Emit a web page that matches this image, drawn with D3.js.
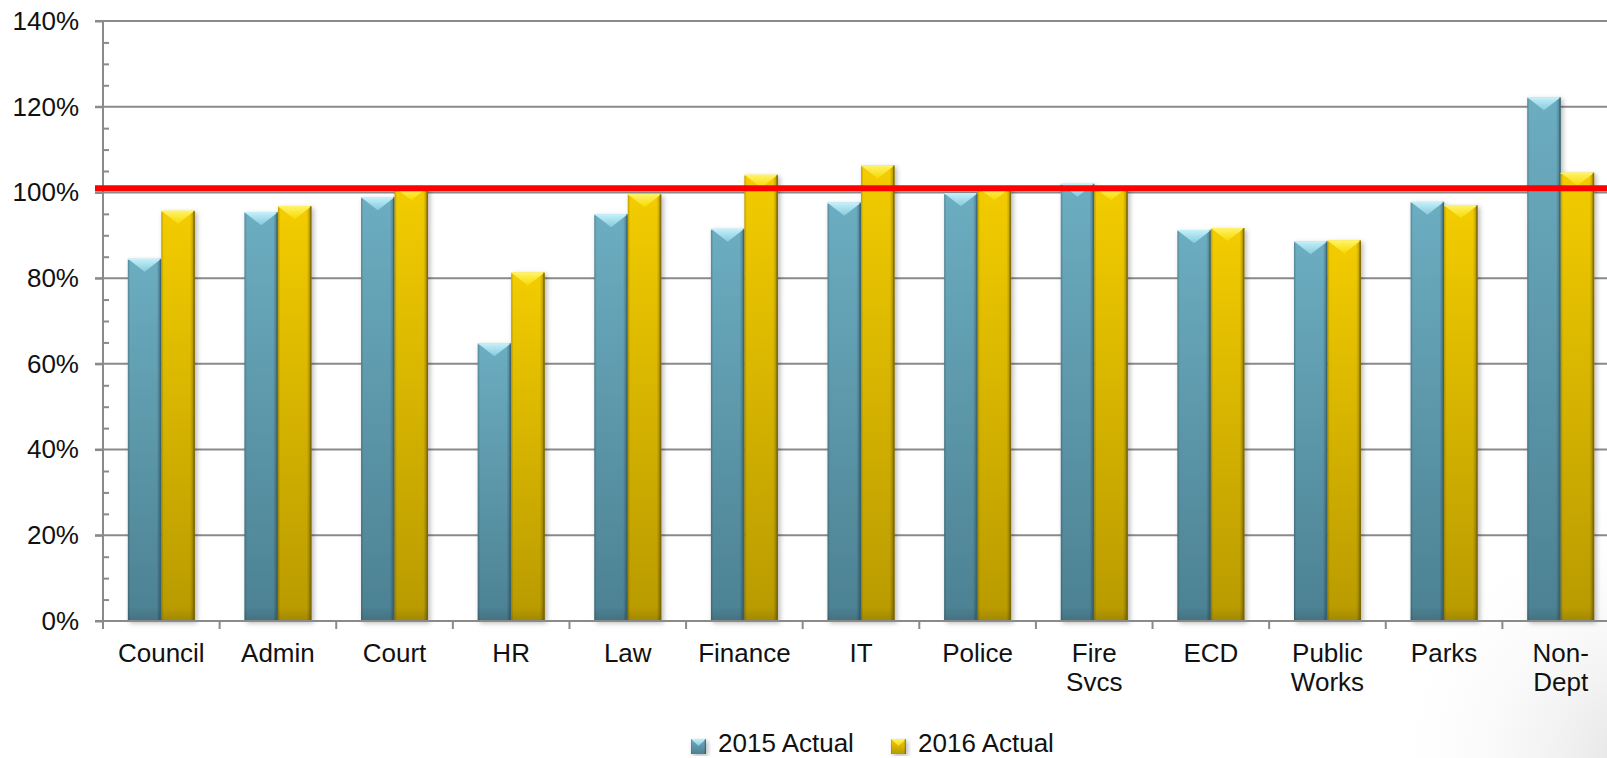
<!DOCTYPE html>
<html>
<head>
<meta charset="utf-8">
<script src="https://cdn.jsdelivr.net/npm/d3@7"></script>
<style>
  html, body { margin: 0; padding: 0; background: #ffffff; }
  svg { display: block; }
  text { font-family: "Liberation Sans", Arial, Helvetica, sans-serif; fill: #111; }
</style>
</head>
<body>
<svg id="chart" width="1607" height="758"></svg>
<script>
// Departments (line breaks split two-line labels)
const categories = ["Council", "Admin", "Court", "HR", "Law", "Finance", "IT", "Police",
  "Fire\nSvcs", "ECD", "Public\nWorks", "Parks", "Non-\nDept"];
// Share of budget spent, per year
const actual2015 = [0.845, 0.954, 0.989, 0.648, 0.949, 0.915, 0.976, 0.998, 1.020, 0.912, 0.886, 0.978, 1.222];
const actual2016 = [0.957, 0.968, 1.012, 0.813, 0.996, 1.041, 1.063, 1.012, 1.012, 0.917, 0.888, 0.970, 1.046];
const seriesNames = ["2015 Actual", "2016 Actual"];
const majorTicks = [0, 0.2, 0.4, 0.6, 0.8, 1.0, 1.2, 1.4];
const minorTicks = [0.05, 0.1, 0.15, 0.25, 0.3, 0.35, 0.45, 0.5, 0.55, 0.65, 0.7, 0.75,
  0.85, 0.9, 0.95, 1.05, 1.1, 1.15, 1.25, 1.3, 1.35];
const targetLine = 1.01;

const svg = d3.select("#chart");
const W = 1607, H = 758;
const plot = { left: 103, top: 21, bottom: 621, right: 1619 };

const y = d3.scaleLinear().domain([0, 1.4]).range([plot.bottom, plot.top]);
const x0 = d3.scaleBand().domain(categories).range([plot.left, plot.right]).padding(0);
const gap = x0.bandwidth() * 0.213;
const x1 = d3.scaleBand().domain(seriesNames).range([gap, x0.bandwidth() - gap]).padding(0);

const palette = {
  "2015 Actual": { top: "#6cadc1", bottom: "#4c8192", capTop: "#c4f0fa", capBot: "#86cadc", edge: "#3b6a79" },
  "2016 Actual": { top: "#f3cc00", bottom: "#b89a00", capTop: "#fff36a", capBot: "#f7d900", edge: "#7f6a00" }
};

// ---- defs: gradients & shadow ----
const defs = svg.append("defs");
const corner = defs.append("radialGradient").attr("id", "cornerShade")
  .attr("gradientUnits", "userSpaceOnUse").attr("cx", 1640).attr("cy", 760).attr("r", 260);
corner.append("stop").attr("offset", 0).attr("stop-color", "#e2e2e2");
corner.append("stop").attr("offset", 1).attr("stop-color", "#ffffff").attr("stop-opacity", 0);

seriesNames.forEach((s, i) => {
  const p = palette[s];
  const body = defs.append("linearGradient").attr("id", "body" + i)
    .attr("x1", 0).attr("y1", 0).attr("x2", 0).attr("y2", 1);
  body.append("stop").attr("offset", 0).attr("stop-color", p.top);
  body.append("stop").attr("offset", 1).attr("stop-color", p.bottom);
  const cap = defs.append("linearGradient").attr("id", "cap" + i)
    .attr("x1", 0).attr("y1", 0).attr("x2", 0).attr("y2", 1);
  cap.append("stop").attr("offset", 0).attr("stop-color", p.capTop);
  cap.append("stop").attr("offset", 1).attr("stop-color", p.capBot);
});
const side = defs.append("linearGradient").attr("id", "sideShade")
  .attr("x1", 0).attr("y1", 0).attr("x2", 1).attr("y2", 0);
[[0, 0.22], [0.07, 0.0], [0.86, 0.0], [0.94, 0.18], [1, 0.42]].forEach(([o, a]) =>
  side.append("stop").attr("offset", o).attr("stop-color", "#000").attr("stop-opacity", a));
const foot = defs.append("linearGradient").attr("id", "footShade")
  .attr("x1", 0).attr("y1", 0).attr("x2", 0).attr("y2", 1);
foot.append("stop").attr("offset", 0).attr("stop-color", "#000").attr("stop-opacity", 0);
foot.append("stop").attr("offset", 1).attr("stop-color", "#000").attr("stop-opacity", 0.12);

const shadow = defs.append("filter").attr("id", "barShadow")
  .attr("x", "-30%").attr("y", "-5%").attr("width", "160%").attr("height", "112%");
shadow.append("feDropShadow").attr("dx", 2).attr("dy", 2).attr("stdDeviation", 2.5)
  .attr("flood-color", "#000").attr("flood-opacity", 0.28);

svg.append("rect").attr("width", W).attr("height", H).attr("fill", "#fff");
svg.append("rect").attr("x", 1300).attr("y", 480).attr("width", 307).attr("height", 278)
  .attr("fill", "url(#cornerShade)");

// ---- gridlines ----
svg.append("g").selectAll("line").data(majorTicks).join("line")
  .attr("x1", plot.left - 8).attr("x2", plot.right)
  .attr("y1", d => y(d)).attr("y2", d => y(d))
  .attr("stroke", "#8a8a8a").attr("stroke-width", 2);

// ---- y axis ----
const yAxis = svg.append("g").attr("transform", `translate(${plot.left},0)`)
  .call(d3.axisLeft(y).tickValues(majorTicks).tickSize(8).tickPadding(16)
    .tickFormat(d3.format(".0%")));
yAxis.select(".domain").remove();
yAxis.selectAll(".tick line").attr("stroke", "#8a8a8a").attr("stroke-width", 2);
yAxis.selectAll(".tick text").attr("font-size", 26).style("font-family", "'Liberation Sans', Arial, sans-serif").attr("fill", "#111");

const yMinor = svg.append("g").attr("transform", `translate(${plot.left},0)`)
  .call(d3.axisRight(y).tickValues(minorTicks).tickSize(6).tickFormat(""));
yMinor.select(".domain").remove();
yMinor.selectAll(".tick line").attr("stroke", "#8a8a8a").attr("stroke-width", 2);

svg.append("line").attr("x1", plot.left).attr("x2", plot.left)
  .attr("y1", plot.top).attr("y2", plot.bottom + 8)
  .attr("stroke", "#8a8a8a").attr("stroke-width", 2);

// ---- bars ----
const groups = svg.append("g").selectAll("g").data(categories).join("g")
  .attr("transform", d => `translate(${x0(d)},0)`);

const barData = (c, i) => [
  { s: seriesNames[0], k: 0, v: actual2015[i] },
  { s: seriesNames[1], k: 1, v: actual2016[i] }
];

const bars = groups.selectAll("g.bar").data((c, i) => barData(c, i)).join("g")
  .attr("class", "bar").attr("filter", "url(#barShadow)");

bars.append("rect")
  .attr("x", d => x1(d.s)).attr("y", d => y(d.v))
  .attr("width", x1.bandwidth()).attr("height", d => y(0) - y(d.v))
  .attr("fill", d => `url(#body${d.k})`);
bars.append("rect")
  .attr("x", d => x1(d.s)).attr("y", d => y(d.v))
  .attr("width", x1.bandwidth()).attr("height", d => y(0) - y(d.v))
  .attr("fill", "url(#sideShade)");
bars.append("rect")
  .attr("x", d => x1(d.s)).attr("y", y(0) - 14)
  .attr("width", x1.bandwidth()).attr("height", 14)
  .attr("fill", "url(#footShade)");
// bevelled cap: light wedge pointing down to the bar centre
bars.append("path")
  .attr("d", d => {
    const xl = x1(d.s), w = x1.bandwidth(), t = y(d.v);
    return `M${xl},${t}L${xl + w},${t}L${xl + w / 2},${t + 13}Z`;
  })
  .attr("fill", d => `url(#cap${d.k})`);
bars.append("line")
  .attr("x1", d => x1(d.s)).attr("x2", d => x1(d.s) + x1.bandwidth())
  .attr("y1", d => y(d.v) + 0.5).attr("y2", d => y(d.v) + 0.5)
  .attr("stroke", d => palette[d.s].capTop).attr("stroke-width", 1);
bars.append("rect")
  .attr("x", d => x1(d.s) + x1.bandwidth() - 1.5).attr("y", d => y(d.v))
  .attr("width", 1.5).attr("height", d => y(0) - y(d.v))
  .attr("fill", d => palette[d.s].edge).attr("opacity", 0.8);

// ---- x axis ----
svg.append("line").attr("x1", plot.left - 8).attr("x2", plot.right)
  .attr("y1", y(0)).attr("y2", y(0)).attr("stroke", "#8a8a8a").attr("stroke-width", 2);
const boundaries = categories.map(c => x0(c)).concat([plot.right]);
svg.append("g").selectAll("line").data(boundaries).join("line")
  .attr("x1", d => d).attr("x2", d => d)
  .attr("y1", y(0)).attr("y2", y(0) + 8)
  .attr("stroke", "#8a8a8a").attr("stroke-width", 2);

const labels = svg.append("g").selectAll("text").data(categories).join("text")
  .attr("x", d => x0(d) + x0.bandwidth() / 2)
  .attr("y", 662)
  .attr("text-anchor", "middle")
  .attr("font-size", 26);
labels.selectAll("tspan").data(d => d.split("\n")).join("tspan")
  .attr("x", function () { return d3.select(this.parentNode).attr("x"); })
  .attr("dy", (d, i) => i === 0 ? 0 : 29)
  .text(d => d);

// ---- target line ----
svg.append("line").attr("x1", plot.left - 8).attr("x2", W)
  .attr("y1", y(targetLine)).attr("y2", y(targetLine))
  .attr("stroke", "#ff0000").attr("stroke-width", 6);

// ---- legend ----
const legendX = [691, 891];
const legend = svg.append("g").selectAll("g").data(seriesNames).join("g")
  .attr("transform", (d, i) => `translate(${legendX[i]},739)`);
legend.append("rect").attr("width", 15).attr("height", 15)
  .attr("fill", (d, i) => `url(#body${i})`).attr("filter", "url(#barShadow)");
legend.append("path").attr("d", "M0,0L15,0L7.5,7Z").attr("fill", (d, i) => `url(#cap${i})`);
legend.append("rect").attr("width", 15).attr("height", 15).attr("fill", "url(#sideShade)");
legend.append("text").attr("x", 27).attr("y", 13).attr("font-size", 26).text(d => d);
</script>
</body>
</html>
